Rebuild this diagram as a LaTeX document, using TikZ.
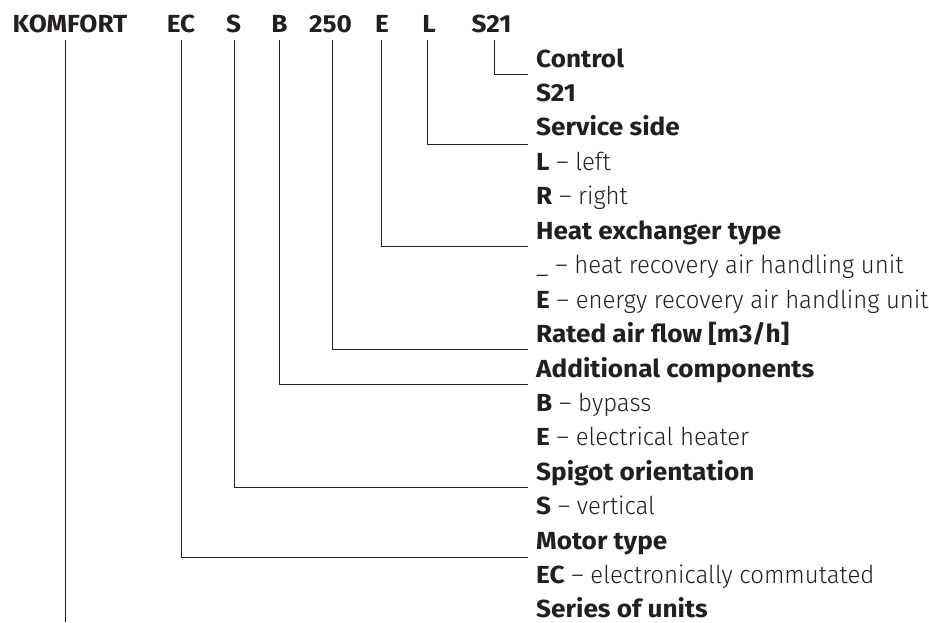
\documentclass[tikz,border=0pt]{standalone}
\usepackage{fontspec}
\setmainfont{Fira Sans}[FakeStretch=1.06]
\IfFontExistsTF{Fira Sans Light}
  {\newfontfamily\lightfam{Fira Sans Light}[FakeStretch=0.97]}
  {\newfontfamily\lightfam{Fira Sans}[FakeStretch=0.97]}
\definecolor{ink}{HTML}{231F20}
\newcommand\hfont{\fontsize{24.7pt}{30pt}\selectfont\bfseries}
\newcommand\dfont{\fontsize{24.7pt}{30pt}\selectfont\lightfam}
\newcommand\kb[1]{{\normalfont\bfseries #1}}
\tikzset{
  hdr/.style={font=\hfont, text=ink, inner sep=0pt, anchor=base},
  headline/.style={font=\hfont, text=ink, inner sep=0pt, anchor=base west},
  descline/.style={font=\dfont, text=ink, inner sep=0pt, anchor=base west},
  conn/.style={draw=ink, line width=0.9pt},
}
\begin{document}
\begin{tikzpicture}[x=1pt,y=-1pt]
\useasboundingbox (0,0) rectangle (929,622);
% header
\node[hdr] (hKOM) at (70,32) {KOMFORT};
\node[hdr] (hEC)  at (181,32) {EC};
\node[hdr] (hS)   at (233.5,32) {S};
\node[hdr] (hB)   at (279.5,32) {B};
\node[hdr] (h250) at (330.5,32) {250};
\node[hdr] (hE)   at (382,32) {E};
\node[hdr] (hL)   at (429,32) {L};
\node[hdr] (hS21) at (491.5,32) {S21};
% right column
\def\tx{536}
\node[headline] (d0)  at (\tx,67.0)  {Control};
\node[headline] (d1)  at (\tx,101.4) {S21};
\node[headline] (d2)  at (\tx,135.9) {Service side};
\node[descline] (d3)  at (\tx,170.3) {\kb{L} – left};
\node[descline] (d4)  at (\tx,204.8) {\kb{R} – right};
\node[headline] (d5)  at (\tx,239.2) {Heat exchanger type};
\node[descline] (d6)  at (\tx,273.6) {\_ – heat recovery air handling unit};
\node[descline] (d7)  at (\tx,308.1) {\kb{E} – energy recovery air handling unit};
\node[headline] (d8)  at (\tx,342.5) {Rated air flow [m3/h]};
\node[headline] (d9)  at (\tx,377.0) {Additional components};
\node[descline] (d10) at (\tx,411.4) {\kb{B} – bypass};
\node[descline] (d11) at (\tx,445.8) {\kb{E} – electrical heater};
\node[headline] (d12) at (\tx,480.3) {Spigot orientation};
\node[descline] (d13) at (\tx,514.7) {\kb{S} – vertical};
\node[headline] (d14) at (\tx,549.2) {Motor type};
\node[descline] (d15) at (\tx,583.6) {\kb{EC} – electronically commutated};
\node[headline] (d16) at (\tx,617.0) {Series of units};
% connector ends
\coordinate (tKOM) at (65.7,40);  \coordinate (eKOM) at (65.7,622);
\coordinate (tEC)  at (181,40);   \coordinate (eEC)  at (528,557);
\coordinate (tS)   at (234,40);   \coordinate (eS)   at (528,487.5);
\coordinate (tB)   at (279,40);   \coordinate (eB)   at (528,384.5);
\coordinate (t250) at (332,40);   \coordinate (e250) at (528,349);
\coordinate (tE)   at (381,40);   \coordinate (eE)   at (528,246);
\coordinate (tL)   at (427,40);   \coordinate (eL)   at (528,144);
\coordinate (tS21) at (494,40);   \coordinate (eS21) at (528,74.5);
\draw[conn] (tKOM) -- (eKOM);
\draw[conn] (tEC) |- (eEC);
\draw[conn] (tS) |- (eS);
\draw[conn] (tB) |- (eB);
\draw[conn] (t250) |- (e250);
\draw[conn] (tE) |- (eE);
\draw[conn] (tL) |- (eL);
\draw[conn] (tS21) |- (eS21);
\end{tikzpicture}
\end{document}
